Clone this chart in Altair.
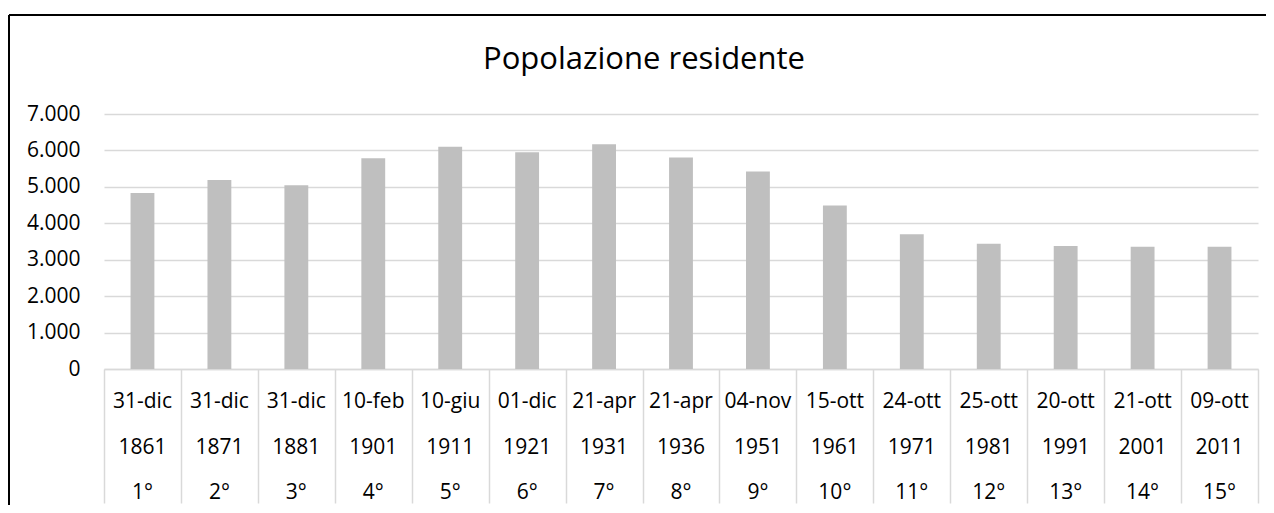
import altair as alt
import pandas as pd

# ---- data ----
censimento = ["1°", "2°", "3°", "4°", "5°", "6°", "7°", "8°", "9°", "10°",
              "11°", "12°", "13°", "14°", "15°"]
date_cens = ["31-dic", "31-dic", "31-dic", "10-feb", "10-giu", "01-dic", "21-apr",
             "21-apr", "04-nov", "15-ott", "24-ott", "25-ott", "20-ott", "21-ott", "09-ott"]
anni = ["1861", "1871", "1881", "1901", "1911", "1921", "1931", "1936", "1951",
        "1961", "1971", "1981", "1991", "2001", "2011"]
popolazione = [4829, 5188, 5041, 5786, 6098, 5952, 6173, 5806, 5419, 4489,
               3698, 3441, 3377, 3358, 3353]
y_ticks = [0, 1000, 2000, 3000, 4000, 5000, 6000, 7000]
titolo = "Popolazione residente"

df = pd.DataFrame({"cens": censimento, "data": date_cens, "anno": anni, "pop": popolazione})
one = pd.DataFrame({"k": [0]})

W, H = 1154, 255
PAD_L, PAD_T, PAD_R, PAD_B = 96, 106, 8, 136
FONT = "Open Sans"
GRID = "#D9D9D9"

xscale = alt.Scale(paddingInner=0, paddingOuter=0)
x_axis = alt.Axis(title=None, labels=False, domainColor=GRID, domainWidth=1.5,
                  tickBand="extent", tickSize=134, tickColor=GRID, tickWidth=1.5)

bars = alt.Chart(df).mark_bar(color="#BFBFBF", width=alt.RelativeBandSize(0.31)).encode(
    x=alt.X("cens:N", sort=censimento, scale=xscale, axis=x_axis),
    y=alt.Y("pop:Q", scale=alt.Scale(domain=[0, 7000], nice=False),
            axis=alt.Axis(title=None, values=y_ticks,
                          labelExpr="replace(format(datum.value, ','), ',', '.')",
                          domain=False, ticks=False, labelPadding=24,
                          gridColor=GRID, gridWidth=1.5,
                          labelFont=FONT, labelFontSize=21, labelColor="#000000")),
)

def row(field, off):
    return alt.Chart(df).mark_text(font=FONT, fontSize=21, baseline="alphabetic",
                                   align="center", color="#000000").encode(
        x=alt.X("cens:N", sort=censimento, scale=xscale),
        y=alt.value(H + off),
        text=alt.Text(f"{field}:N"),
    )

row1 = row("data", 39)
row2 = row("anno", 85)
row3 = row("cens", 130)

title = alt.Chart(one).mark_text(font=FONT, fontSize=31, baseline="alphabetic",
                                 align="center", color="#000000").encode(
    x=alt.value(540), y=alt.value(-45), text=alt.value(titolo))

frame_top = alt.Chart(one).mark_rule(color="#000000", strokeWidth=2).encode(
    x=alt.value(-PAD_L + 1), x2=alt.value(W + PAD_R), y=alt.value(-PAD_T + 7))
frame_left = alt.Chart(one).mark_rule(color="#000000", strokeWidth=2).encode(
    x=alt.value(-PAD_L + 1), y=alt.value(-PAD_T + 7), y2=alt.value(H + PAD_B))

chart = alt.layer(bars, row1, row2, row3, title, frame_top, frame_left).properties(
    width=W, height=H,
    autosize=alt.AutoSizeParams(type="none"),
    padding={"left": PAD_L, "top": PAD_T, "right": PAD_R, "bottom": PAD_B},
    background="white",
).configure_view(stroke=None)

chart.save("out.html", embed_options={"renderer": "svg", "actions": False})
